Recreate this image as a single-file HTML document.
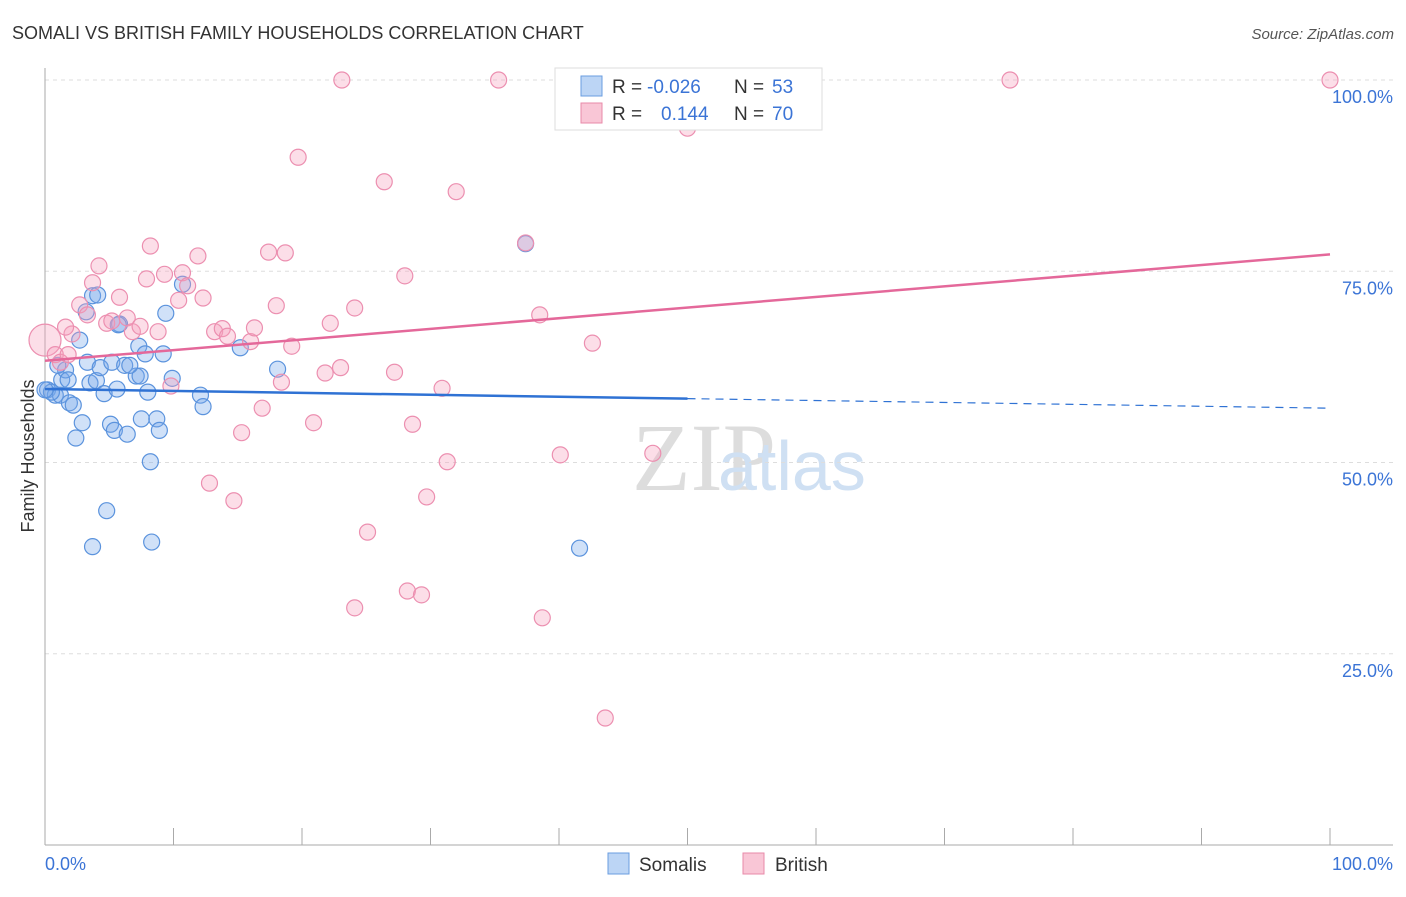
<!DOCTYPE html>
<html><head><meta charset="utf-8"><style>
body{margin:0;background:#fff;font-family:"Liberation Sans",sans-serif}
</style></head><body>
<svg width="1406" height="892" viewBox="0 0 1406 892" font-family="Liberation Sans, sans-serif">
<text x="12" y="39" font-size="18" fill="#333">SOMALI VS BRITISH FAMILY HOUSEHOLDS CORRELATION CHART</text>
<text x="1394" y="39" font-size="15" fill="#555" font-style="italic" text-anchor="end">Source: ZipAtlas.com</text>
<text x="632" y="490" font-size="96" fill="#ddd" font-family="Liberation Serif, serif">ZIP</text>
<text x="718" y="490" font-size="70" fill="#cfe0f3">atlas</text>
<g id="grid"></g>
<g id="axes"></g>
<g id="pts"></g>
<g id="lines"></g>
<text transform="translate(34,456) rotate(-90)" font-size="18" fill="#333" text-anchor="middle">Family Households</text>
<text x="45" y="870" font-size="18" fill="#3b74d6">0.0%</text>
<text x="1393" y="870" font-size="18" fill="#3b74d6" text-anchor="end">100.0%</text>
<g>
<rect x="555" y="68" width="267" height="62" fill="#fff" stroke="#ddd"/>
<rect x="581" y="76" width="21" height="20" fill="#bcd5f5" stroke="#6a9de0"/>
<rect x="581" y="103" width="21" height="20" fill="#f9c6d6" stroke="#e88aa8"/>
<text x="612" y="93" font-size="19" fill="#333">R = </text><text x="647" y="93" font-size="19" fill="#3b74d6">-0.026</text>
<text x="734" y="93" font-size="19" fill="#333">N = </text><text x="772" y="93" font-size="19" fill="#3b74d6">53</text>
<text x="612" y="120" font-size="19" fill="#333">R = </text><text x="661" y="120" font-size="19" fill="#3b74d6">0.144</text>
<text x="734" y="120" font-size="19" fill="#333">N = </text><text x="772" y="120" font-size="19" fill="#3b74d6">70</text>
</g>
<g>
<rect x="608" y="853" width="21" height="21" fill="#bcd5f5" stroke="#6a9de0"/>
<text x="639" y="871" font-size="19" fill="#333">Somalis</text>
<rect x="743" y="853" width="21" height="21" fill="#f9c6d6" stroke="#e88aa8"/>
<text x="775" y="871" font-size="19" fill="#333">British</text>
</g>
</svg>
<script>
const somaliX=[0.2,0.8,1.2,0.5,1.3,1.6,1.9,2.2,1.8,1.0,2.7,3.2,3.7,4.1,3.3,3.5,4.0,4.3,4.6,5.1,2.9,2.4,5.4,6.4,5.6,5.2,5.8,6.2,7.1,7.4,7.3,7.8,8.0,7.5,8.7,8.9,9.2,9.9,9.4,10.7,8.2,4.8,3.7,8.3,12.1,12.3,15.2,18.1,37.4,41.6,5.7,6.6,0];
const somaliY=[59.5,58.8,58.8,59.2,60.8,62.1,57.8,57.5,60.8,62.7,66.0,69.7,71.8,71.9,63.1,60.4,60.7,62.4,59.0,55.0,55.2,53.2,54.2,53.7,59.6,63.1,68.1,62.7,61.3,61.3,65.2,64.2,59.2,55.7,55.7,54.2,64.2,61.0,69.5,73.3,50.1,43.7,39.0,39.6,58.8,57.3,65.0,62.2,78.6,38.8,68.0,62.7,59.5];
const britishX=[0,0.8,1.2,1.8,2.1,2.7,3.3,3.7,4.2,4.8,5.2,5.8,6.4,6.8,7.4,8.2,7.9,8.8,9.3,9.8,10.4,10.7,11.1,11.9,12.3,13.2,13.8,14.2,16.0,16.3,16.9,15.3,14.7,12.8,17.4,18.7,18.0,19.2,18.4,19.7,20.9,22.2,21.8,23.0,23.1,24.1,24.1,25.1,26.4,27.2,28.0,28.2,28.6,29.3,29.7,31.3,30.9,32.0,35.3,37.4,38.5,38.7,40.1,42.6,43.6,47.3,50.0,75.1,100,1.6];
const britishY=[66.0,64.1,63.1,64.1,66.8,70.6,69.3,73.5,75.7,68.2,68.5,71.6,68.9,67.1,67.8,78.3,74.0,67.1,74.6,60.0,71.2,74.8,73.1,77.0,71.5,67.1,67.5,66.5,65.8,67.6,57.1,53.9,45.0,47.3,77.5,77.4,70.5,65.2,60.5,89.9,55.2,68.2,61.7,62.4,100,70.2,31.0,40.9,86.7,61.8,74.4,33.2,55.0,32.7,45.5,50.1,59.7,85.4,100,78.7,69.3,29.7,51.0,65.6,16.6,51.2,93.7,100,100,67.7];
const somaliTrend=[59.6,57.1];
const britishTrend=[63.3,77.2];
const yTicks=[100,75,50,25];
const NS="http://www.w3.org/2000/svg";
const sx=v=>45+v*12.85, sy=v=>845-v*7.65;
function mk(tag,attrs,parent){const e=document.createElementNS(NS,tag);for(const k in attrs)e.setAttribute(k,attrs[k]);document.getElementById(parent).appendChild(e);return e;}
yTicks.forEach(t=>{
 const l=mk('line',{x1:45,x2:1393,y1:sy(t),y2:sy(t),stroke:'#ddd','stroke-dasharray':'4,4'},'grid');
 
 
 const tx=mk('text',{x:1393,y:sy(t)+23,'font-size':18,fill:'#3b74d6','text-anchor':'end'},'grid');
 tx.textContent=t.toFixed(1)+'%';
 
 
});
let ax=mk('line',{x1:45,x2:45,y1:68,y2:845,stroke:'#aaa'},'axes');


ax=mk('line',{x1:45,x2:1393,y1:845,y2:845,stroke:'#aaa'},'axes');


for(let i=1;i<=10;i++){
 const t=mk('line',{x1:sx(i*10),x2:sx(i*10),y1:828,y2:845,stroke:'#aaa'},'axes');
 
 
}
somaliX.forEach((x,i)=>{
 const c=mk('circle',{cx:sx(x),cy:sy(somaliY[i]),r:8,fill:'rgba(120,170,235,0.35)',stroke:'#5b93dd','stroke-width':1.2},'pts');
 
 
});
britishX.forEach((x,i)=>{
 const c=mk('circle',{cx:sx(x),cy:sy(britishY[i]),r:i===0?16:8,fill:'rgba(245,160,190,0.35)',stroke:'#ec8fb0','stroke-width':1.2},'pts');
 
 
});
const yAt=(tr,x)=>tr[0]+(tr[1]-tr[0])*x/100;
let l=mk('line',{x1:sx(0),y1:sy(somaliTrend[0]),x2:sx(50),y2:sy(yAt(somaliTrend,50)),stroke:'#2f72d4','stroke-width':2.5},'lines');


l=mk('line',{x1:sx(50),y1:sy(yAt(somaliTrend,50)),x2:sx(100),y2:sy(somaliTrend[1]),stroke:'#2f72d4','stroke-width':1.2,'stroke-dasharray':'8,6'},'lines');


l=mk('line',{x1:sx(0),y1:sy(britishTrend[0]),x2:sx(100),y2:sy(britishTrend[1]),stroke:'#e4689a','stroke-width':2.5},'lines');


</script>
</body></html>
